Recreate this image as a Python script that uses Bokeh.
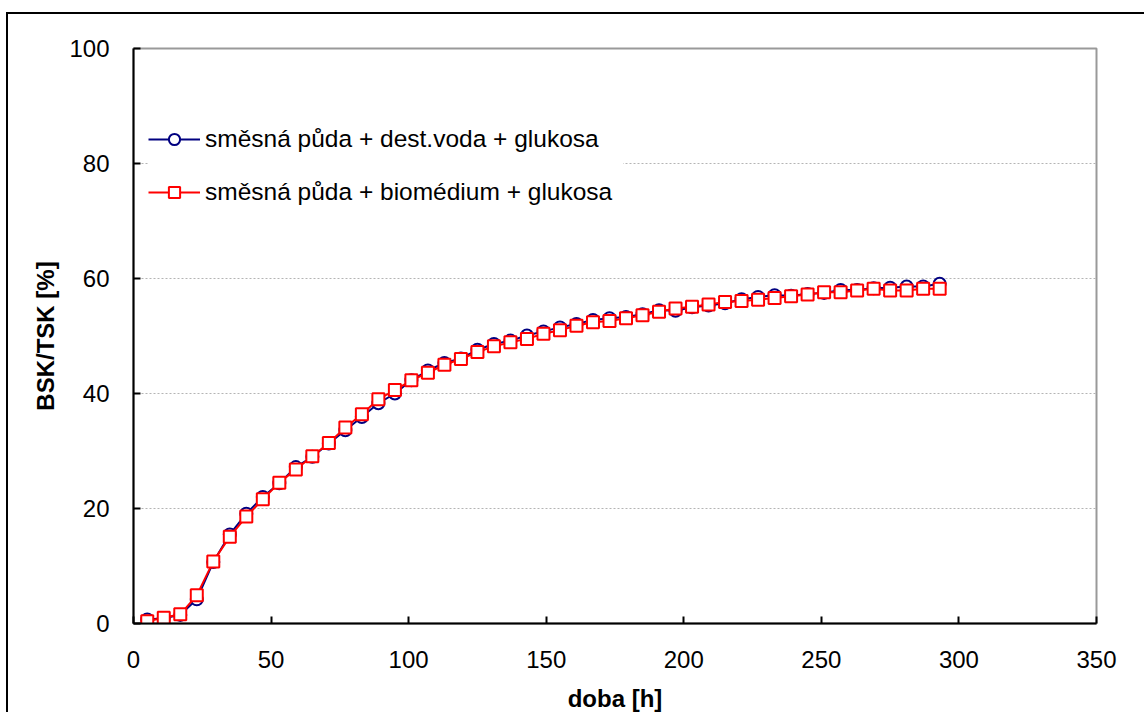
from bokeh.plotting import figure
from bokeh.models import Range1d, FixedTicker, Legend, LegendItem
from bokeh.embed import file_html
from bokeh.resources import INLINE

# ---- data ----
doba = [5, 11, 17, 23, 29, 35, 41, 47, 53, 59, 65, 71, 77, 83, 89, 95, 101, 107,
        113, 119, 125, 131, 137, 143, 149, 155, 161, 167, 173, 179, 185, 191, 197,
        203, 209, 215, 221, 227, 233, 239, 245, 251, 257, 263, 269, 275, 281, 287, 293]

voda = [0.7, 0.9, 1.5, 4.2, 10.7, 15.5, 19.1, 22.0, 24.4, 27.2, 29.0, 31.3, 33.6,
        35.9, 38.3, 40.0, 42.3, 44.0, 45.3, 46.1, 47.6, 48.6, 49.2, 50.1, 50.8,
        51.5, 52.1, 52.8, 53.1, 53.3, 53.8, 54.5, 54.4, 55.0, 55.3, 55.7, 56.4,
        56.8, 57.1, 57.0, 57.3, 57.5, 58.0, 58.0, 58.3, 58.4, 58.6, 58.6, 59.1]

biomedium = [0.4, 1.0, 1.6, 4.9, 10.8, 15.1, 18.6, 21.6, 24.5, 26.8, 29.1, 31.4,
             34.1, 36.4, 39.0, 40.6, 42.3, 43.6, 45.0, 46.0, 47.2, 48.2, 48.9,
             49.5, 50.4, 51.0, 51.8, 52.4, 52.6, 53.1, 53.6, 54.2, 54.8, 55.1,
             55.5, 55.9, 56.1, 56.3, 56.6, 56.9, 57.2, 57.6, 57.6, 57.9, 58.2,
             57.9, 57.9, 58.2, 58.2]

labels = ["směsná půda + dest.voda + glukosa", "směsná půda + biomédium + glukosa"]
x_ticks = [0, 50, 100, 150, 200, 250, 300, 350]
y_ticks = [0, 20, 40, 60, 80, 100]

FONT = "Liberation Sans"

p = figure(width=1138, height=700, output_backend="svg", toolbar_location=None,
           x_range=Range1d(0, 350), y_range=Range1d(0, 100),
           min_border_left=125, min_border_top=34, min_border_right=50,
           min_border_bottom=90)
p.styles = {"border-top": "2px solid black", "border-left": "2px solid black",
            "margin-top": "12px", "margin-left": "6px"}

p.background_fill_color = "white"
p.border_fill_color = "white"
p.outline_line_color = "#999999"
p.outline_line_width = 2

p.xgrid.grid_line_color = None
p.ygrid.grid_line_color = "#b4b4b4"
p.ygrid.grid_line_dash = "2 2"
p.ygrid.grid_line_width = 1

for ax in (p.xaxis[0], p.yaxis[0]):
    ax.axis_line_color = "black"
    ax.axis_line_width = 2
    ax.major_tick_in = 7
    ax.major_tick_out = 0
    ax.major_tick_line_width = 2
    ax.major_tick_line_color = "black"
    ax.minor_tick_line_color = None
    ax.major_label_text_font = FONT
    ax.major_label_text_font_size = "24px"
    ax.major_label_text_color = "black"
    ax.axis_label_text_font = FONT
    ax.axis_label_text_font_size = "24px"
    ax.axis_label_text_font_style = "bold"
    ax.axis_label_text_color = "black"

p.xaxis.ticker = FixedTicker(ticks=x_ticks)
p.yaxis.ticker = FixedTicker(ticks=y_ticks)
p.xaxis.axis_label = "doba [h]"
p.yaxis.axis_label = "BSK/TSK [%]"
p.xaxis.major_label_standoff = 27
p.yaxis.major_label_standoff = 24
p.xaxis.axis_label_standoff = 14
p.yaxis.axis_label_standoff = 7

l1 = p.line(doba, voda, line_color="#000080", line_width=2)
s1 = p.scatter(doba, voda, marker="circle", size=12, line_color="#000080",
               line_width=2, fill_color="white")
l2 = p.line(doba, biomedium, line_color="#ff0000", line_width=2)
s2 = p.scatter(doba, biomedium, marker="square", size=12, line_color="#ff0000",
               line_width=2, fill_color="white")

legend = Legend(items=[LegendItem(label=labels[0], renderers=[l1, s1]),
                       LegendItem(label=labels[1], renderers=[l2, s2])],
                location=(15, 417), orientation="vertical", spacing=25,
                padding=0, margin=0, glyph_width=52, glyph_height=28,
                label_height=28, label_standoff=5, label_width=418,
                label_text_font=FONT, label_text_font_size="24.5px",
                label_text_color="black",
                border_line_color=None, background_fill_color="white",
                background_fill_alpha=1.0)
p.add_layout(legend)

open("out.html", "w").write(file_html(p, INLINE))
